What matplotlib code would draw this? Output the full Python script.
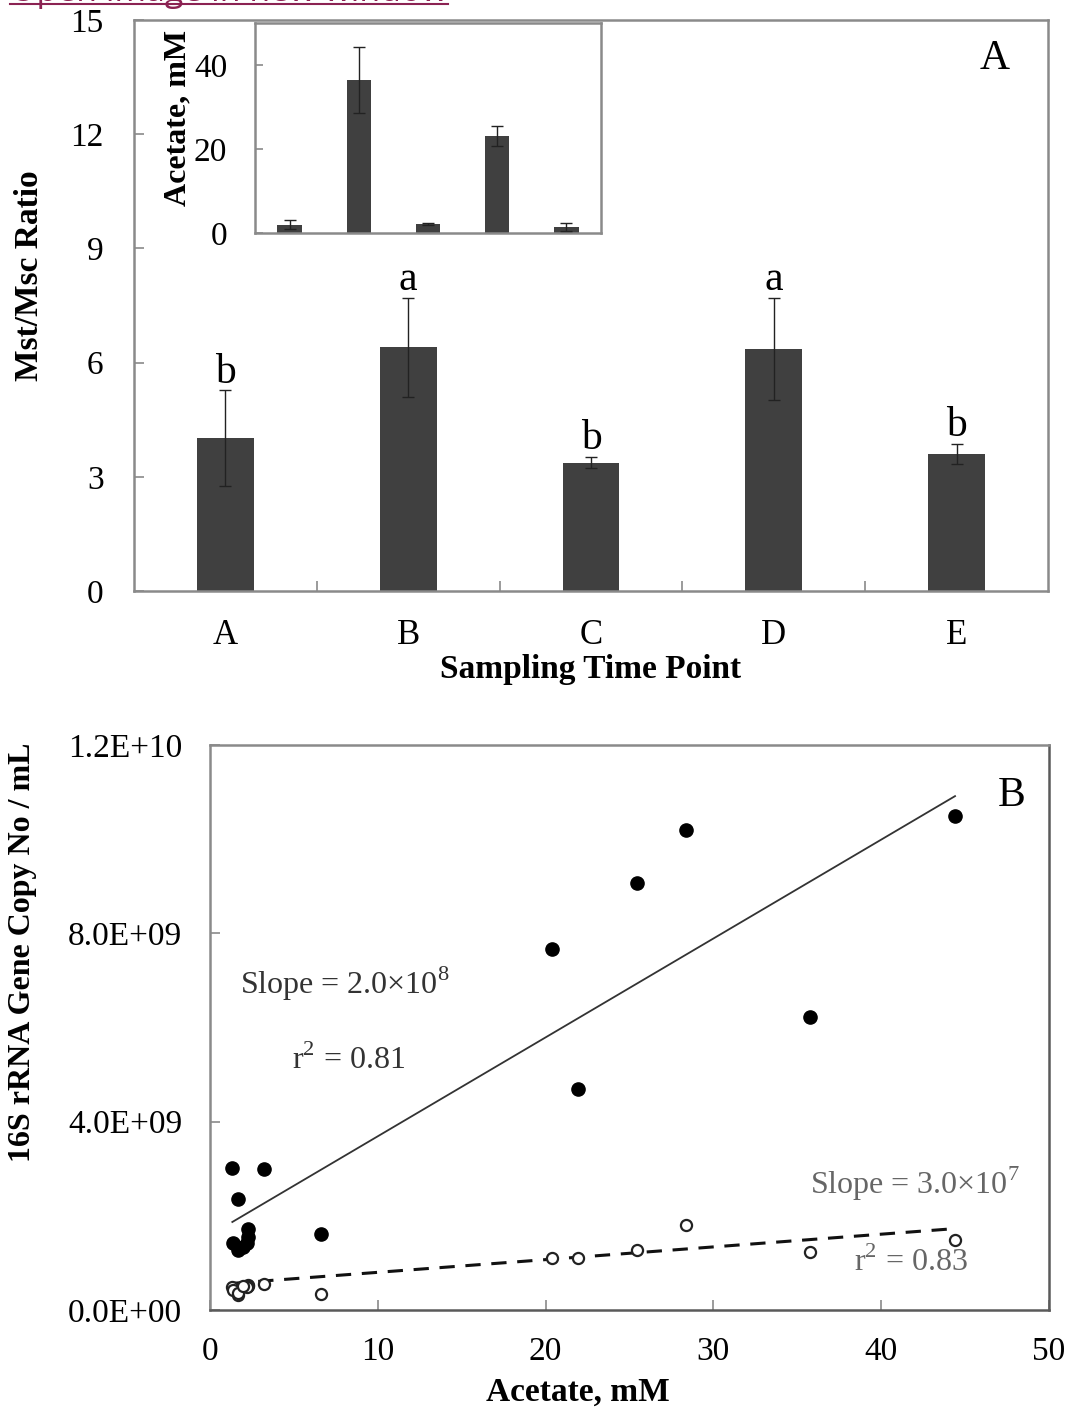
import matplotlib
matplotlib.use("Agg")
import matplotlib.pyplot as plt
import numpy as np
from matplotlib.lines import Line2D

plt.rcParams['font.family'] = ['Liberation Serif', 'DejaVu Serif']
plt.rcParams['mathtext.fontset'] = 'custom'
plt.rcParams['mathtext.rm'] = 'Liberation Serif'

# ---------------- data ----------------
time_points = ['A', 'B', 'C', 'D', 'E']
ratio_mean = [4.02, 6.40, 3.37, 6.37, 3.60]
ratio_err = [1.25, 1.30, 0.15, 1.34, 0.27]
sig_letters = ['b', 'a', 'b', 'a', 'b']

acetate_mean = [2.0, 36.5, 2.2, 23.1, 1.4]
acetate_err = [1.0, 7.9, 0.3, 2.4, 0.9]

acetate_x = [1.33, 3.22, 1.65, 2.28, 2.28, 2.19, 1.39, 1.65, 1.98, 6.62,
             20.38, 21.93, 25.45, 28.37, 35.76, 44.40]
mst_copies = [3.01e9, 2.99e9, 2.35e9, 1.73e9, 1.56e9, 1.42e9, 1.42e9, 1.27e9,
              1.34e9, 1.61e9, 7.66e9, 4.69e9, 9.07e9, 10.19e9, 6.22e9, 10.49e9]
msc_copies = [0.49e9, 0.56e9, 0.32e9, 0.53e9, 0.50e9, 0.48e9, 0.42e9, 0.36e9,
              0.52e9, 0.35e9, 1.10e9, 1.10e9, 1.27e9, 1.80e9, 1.24e9, 1.49e9]

# fitted lines as pictured (slope per mM, intercept)
mst_fit = (2.1e8, 1.59e9)
msc_fit = (2.7e7, 0.53e9)
mst_fit_text = ['Slope = 2.0×10$^{8}$', 'r$^{2}$ = 0.81']
msc_fit_text = ['Slope = 3.0×10$^{7}$', 'r$^{2}$ = 0.83']

bottom_xticks = [0, 10, 20, 30, 40, 50]
bottom_yticks = [0, 4e9, 8e9, 1.2e10]
bottom_yticklabels = ['0.0E+00', '4.0E+09', '8.0E+09', '1.2E+10']

# ---------------- figure ----------------
W, H = 1071, 1410
fig = plt.figure(figsize=(W / 100, H / 100), dpi=100)

spine_c = '#8a8a8a'
bar_c = '#404040'


def style_axes(ax, color=spine_c, lw=1.8):
    for s in ax.spines.values():
        s.set_color(color)
        s.set_linewidth(lw)


# ---- panel A ----
axA = fig.add_axes([134 / W, 1 - 591 / H, 914 / W, 571 / H])
xpos = np.arange(len(time_points))
axA.bar(xpos, ratio_mean, width=0.31, color=bar_c, zorder=2)
axA.errorbar(xpos, ratio_mean, yerr=ratio_err, fmt='none', ecolor='#222222',
             elinewidth=1.0, capsize=4, capthick=1.0, zorder=3)
for xi, m, e, lab in zip(xpos, ratio_mean, ratio_err, sig_letters):
    axA.text(xi, m + e + 0.2, lab, ha='center', va='baseline', fontsize=30)
axA.set_xlim(-0.5, len(time_points) - 0.5)
axA.set_ylim(0, 15)
axA.set_yticks([0, 3, 6, 9, 12, 15])
axA.set_xticks(xpos)
axA.set_xticklabels(time_points)
axA.set_xticks(np.arange(0.5, len(time_points) - 0.5, 1.0), minor=True)
axA.tick_params(axis='x', which='major', length=0, pad=20, labelsize=25)
axA.tick_params(axis='x', which='minor', direction='in', length=7, width=1.2, color=spine_c)
axA.tick_params(axis='y', direction='in', length=7, width=1.2, color=spine_c, pad=22, labelsize=24)
style_axes(axA)
axA.set_ylabel('Mst/Msc Ratio', fontsize=24, fontweight='bold', va='center')
axA.yaxis.set_label_coords(-0.114, 0.553)
axA.set_xlabel('Sampling Time Point', fontsize=24, fontweight='bold', va='center')
axA.xaxis.set_label_coords(0.5, -0.138)
axA.text(4.21, 13.99, 'A', ha='center', va='center', fontsize=30)

# ---- inset ----
axI = fig.add_axes([255 / W, 1 - 233 / H, 346 / W, 210 / H])
axI.bar(xpos, acetate_mean, width=0.35, color=bar_c, zorder=2)
axI.errorbar(xpos, acetate_mean, yerr=acetate_err, fmt='none', ecolor='#222222',
             elinewidth=1.0, capsize=4, capthick=1.0, zorder=3)
axI.set_xlim(-0.5, len(time_points) - 0.5)
axI.set_ylim(0, 50)
axI.set_yticks([0, 20, 40])
axI.set_xticks([])
axI.tick_params(axis='y', direction='in', length=6, width=1.2, color=spine_c, pad=20, labelsize=24)
style_axes(axI)
axI.set_ylabel('Acetate, mM', fontsize=23, fontweight='bold', va='center')
axI.yaxis.set_label_coords(-0.2225, 0.548)

# ---- panel B ----
axB = fig.add_axes([210 / W, 1 - 1310 / H, 839 / W, 565 / H])
ax_arr = np.array(acetate_x)
xs = np.array([ax_arr.min(), ax_arr.max()])
axB.plot(xs, mst_fit[0] * xs + mst_fit[1], color='#333333', lw=1.3, zorder=2)
axB.plot(xs, msc_fit[0] * xs + msc_fit[1], color='#111111', lw=2.2,
         dashes=(5, 3.5), zorder=2)
axB.plot(acetate_x, mst_copies, 'o', color='black', markersize=9.5, zorder=3)
axB.plot(acetate_x, msc_copies, 'o', markerfacecolor='white', markeredgecolor='#222222',
         markeredgewidth=1.6, markersize=8, zorder=3)
axB.set_xlim(0, 50)
axB.set_ylim(0, 1.2e10)
axB.set_xticks(bottom_xticks)
axB.set_yticks(bottom_yticks)
axB.set_yticklabels(bottom_yticklabels)
axB.tick_params(axis='x', direction='in', length=7, width=1.2, color=spine_c, pad=19, labelsize=24)
axB.tick_params(axis='y', direction='in', length=7, width=1.2, color=spine_c, pad=20, labelsize=24)
style_axes(axB)
axB.spines['bottom'].set_color('#5a5a5a')
axB.spines['right'].set_color('#5a5a5a')
axB.set_ylabel('16S rRNA Gene Copy No / mL', fontsize=23, fontweight='bold', va='center')
axB.yaxis.set_label_coords(-0.224, 0.634)
axB.set_xlabel('Acetate, mM', fontsize=24, fontweight='bold', va='center')
axB.xaxis.set_label_coords(0.4386, -0.145)

axB.text(1.79, 6.92e9, mst_fit_text[0], ha='left', va='center', fontsize=23, color='#333333')
axB.text(4.89, 5.31e9, mst_fit_text[1], ha='left', va='center', fontsize=23, color='#333333')
axB.text(48.27, 2.68e9, msc_fit_text[0], ha='right', va='center', fontsize=23, color='#666666')
axB.text(45.17, 1.02e9, msc_fit_text[1], ha='right', va='center', fontsize=23, color='#666666')
axB.text(47.8, 10.93e9, 'B', ha='center', va='center', fontsize=30)

# ---- clipped link text at top (cut off in the reference too) ----
link = fig.text(10 / W, 1 - 1 / H, 'Open image in new window', ha='left', va='baseline',
                fontsize=24.5, color='#8b2252', family=['Open Sans', 'DejaVu Sans'])
fig.canvas.draw()
bb = link.get_window_extent()
fig.add_artist(Line2D([bb.x0 / W, bb.x1 / W], [1 - 4 / H, 1 - 4 / H],
                      color='#8b2252', lw=1.5, transform=fig.transFigure))

fig.savefig('out.png', dpi=100)
